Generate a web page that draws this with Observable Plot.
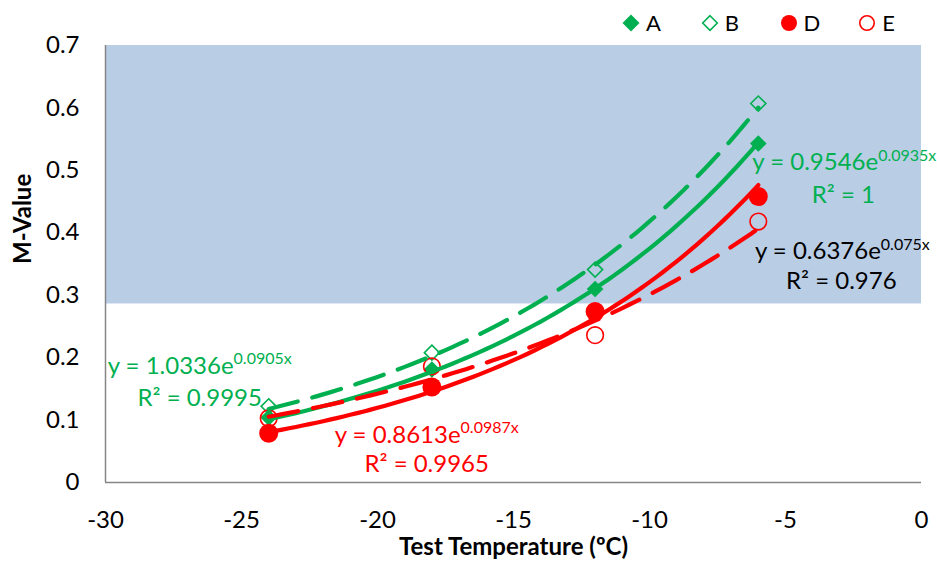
<!DOCTYPE html>
<html>
<head>
<meta charset="utf-8">
<script src="https://cdn.jsdelivr.net/npm/d3@7"></script>
<script src="https://cdn.jsdelivr.net/npm/@observablehq/plot@0.6"></script>
<style>
  body { margin: 0; background: #fff; font-family: Lato, "Open Sans", sans-serif; }
  #legend { height: 33px; box-sizing: border-box; padding-left: 622px; padding-top: 12px; display: flex; }
  #legend .item { width: 83.5px; display: flex; align-items: center; font-size: 22px; color: #000; line-height: 22px; }
  #legend svg { margin-right: 6px; }
</style>
</head>
<body>
<div id="legend"></div>
<div id="chart"></div>
<script>
// Test temperatures (ºC) and measured M-values per mix
const temperatures = [-24, -18, -12, -6];
const seriesNames = ["A", "B", "D", "E"];
const valuesA = [0.104, 0.181, 0.310, 0.543];
const valuesB = [0.122, 0.208, 0.341, 0.607];
const valuesD = [0.079, 0.153, 0.274, 0.458];
const valuesE = [0.103, 0.186, 0.236, 0.418];

// Exponential trendline fits y = a·e^(b·x)
const fitCoef = [0.9546, 1.0336, 0.8613, 0.6376];
const fitRate = [0.0935, 0.0905, 0.0987, 0.075];
const fitR2 = ["1", "0.9995", "0.9965", "0.976"];

// Axis ticks and the shaded M-value band
const xTicks = [-30, -25, -20, -15, -10, -5, 0];
const yTicks = [0, 0.1, 0.2, 0.3, 0.4, 0.5, 0.6, 0.7];
const xDomain = [-30, 0];
const yDomain = [0, 0.7];
const shadedBand = [0.286, 0.7];

const seriesValues = [valuesA, valuesB, valuesD, valuesE];

// Styling per series
const GREEN = "#00b050", RED = "#ff0000";
const style = {
  A: {color: GREEN, symbol: "diamond2", filled: true,  r: 7.5, dash: null,    labelColor: GREEN,  anchor: "end",   eq: [86, 20],  r2: [85, 53]},
  B: {color: GREEN, symbol: "diamond2", filled: false, r: 6.8, dash: "30,15", labelColor: GREEN,  anchor: "start", eq: [-69, -43], r2: [-69, -11]},
  D: {color: RED,   symbol: "circle",   filled: true,  r: 9.5, dash: null,    labelColor: RED,    anchor: "start", eq: [158, 3],   r2: [158, 32]},
  E: {color: RED,   symbol: "circle",   filled: false, r: 8.3, dash: "30,15", labelColor: "#000", anchor: "end",   eq: [84, 23],  r2: [83, 53]}
};

const points = [];
seriesNames.forEach((s, i) => seriesValues[i].forEach((v, j) => points.push({series: s, t: temperatures[j], m: v})));

// Trendline samples over the measured temperature range
const tMin = d3.min(temperatures), tMax = d3.max(temperatures);
const fits = [];
seriesNames.forEach((s, i) => {
  for (let k = 0; k <= 72; k++) {
    const t = tMin + (tMax - tMin) * k / 72;
    fits.push({series: s, t, m: fitCoef[i] * Math.exp(fitRate[i] * t)});
  }
});

const marks = [
  Plot.rectY([shadedBand], {x1: () => xDomain[0], x2: () => xDomain[1], y1: d => d[0], y2: d => d[1], fill: "#b9cde5"}),
  Plot.ruleY([yDomain[0]], {stroke: "#868686", strokeWidth: 1.5}),
  Plot.ruleX([xDomain[0]], {stroke: "#868686", strokeWidth: 1.5}),
  Plot.axisX({ticks: xTicks, tickSize: 0, tickPadding: 28, fontSize: 24, label: null, tickFormat: d => String(d)}),
  Plot.axisY({ticks: yTicks, tickSize: 0, tickPadding: 26, fontSize: 24, label: null, tickFormat: d => d === 0 ? "0" : d.toFixed(1)}),
  Plot.text(["Test Temperature (ºC)"], {frameAnchor: "bottom", dy: 72, fontWeight: "bold", fontSize: 24, text: d => d}),
  Plot.text(["M-Value"], {frameAnchor: "left", dx: -82, rotate: -90, fontWeight: "bold", fontSize: 24, text: d => d})
];

seriesNames.forEach((s) => {
  const st = style[s];
  marks.push(Plot.dot(points.filter(d => d.series === s), {
    x: "t", y: "m", symbol: () => st.symbol, r: st.r,
    fill: st.filled ? st.color : "none", stroke: st.color, strokeWidth: st.filled ? 0 : 1.6
  }));
});

seriesNames.forEach((s) => {
  const st = style[s];
  marks.push(Plot.line(fits.filter(d => d.series === s), {
    x: "t", y: "m", stroke: st.color, strokeWidth: 4.2, strokeLinecap: "round",
    strokeDasharray: st.dash || undefined, curve: "linear"
  }));
});

seriesNames.forEach((s, i) => {
  const st = style[s];
  const t0 = st.anchor === "end" ? tMax : tMin;
  const anchorRow = [{t: t0, m: fitCoef[i] * Math.exp(fitRate[i] * t0)}];
  marks.push(Plot.text(anchorRow, {x: "t", y: "m", text: () => `y = ${fitCoef[i]}e^${fitRate[i]}x`,
    dx: st.eq[0], dy: st.eq[1], fill: st.labelColor, fontSize: 24, textAnchor: "middle"}));
  marks.push(Plot.text(anchorRow, {x: "t", y: "m", text: () => `R² = ${fitR2[i]}`,
    dx: st.r2[0], dy: st.r2[1], fill: st.labelColor, fontSize: 24, textAnchor: "middle"}));
});

const chart = Plot.plot({
  width: 937, height: 534,
  marginTop: 12, marginRight: 16, marginBottom: 85, marginLeft: 105,
  style: {fontFamily: "Lato, 'Open Sans', sans-serif", color: "#000", background: "#fff", overflow: "visible"},
  x: {domain: xDomain},
  y: {domain: yDomain},
  marks
});

// Exponents of the trendline equations as raised, smaller text
const SVGNS = "http://www.w3.org/2000/svg";
chart.querySelectorAll("text").forEach(t => {
  const s = t.textContent;
  if (!s.includes("^")) return;
  const [base, exp] = s.split("^");
  t.textContent = "";
  const b = document.createElementNS(SVGNS, "tspan");
  b.textContent = base;
  const e = document.createElementNS(SVGNS, "tspan");
  e.textContent = exp;
  e.setAttribute("font-size", "16");
  e.setAttribute("dy", "-0.6em");
  t.append(b, e);
});
document.getElementById("chart").append(chart);

// Legend row
const legend = d3.select("#legend");
seriesNames.forEach(s => {
  const st = style[s];
  const item = legend.append("div").attr("class", "item");
  const svg = item.append("svg").attr("width", 18).attr("height", 18).attr("viewBox", "-9 -9 18 18");
  if (st.symbol === "circle") {
    svg.append("circle").attr("r", st.filled ? 8 : 7.2)
      .attr("fill", st.filled ? st.color : "none").attr("stroke", st.color).attr("stroke-width", st.filled ? 0 : 1.6);
  } else {
    const h = st.filled ? 8.5 : 7.3;
    svg.append("path").attr("d", `M0,${-h}L${h},0L0,${h}L${-h},0Z`)
      .attr("fill", st.filled ? st.color : "none").attr("stroke", st.color).attr("stroke-width", st.filled ? 0 : 1.6);
  }
  item.append("span").text(s);
});
</script>
</body>
</html>
